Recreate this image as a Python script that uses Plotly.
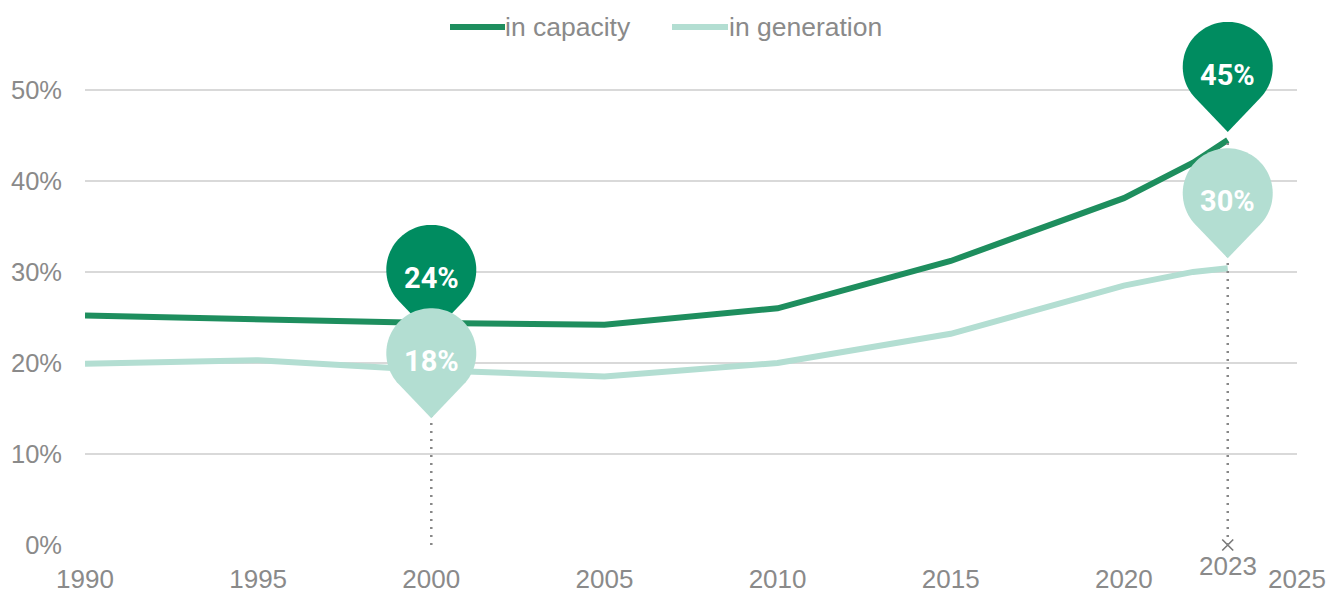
import numpy as np
import plotly.graph_objects as go

# ---- data ----
years = [1990, 1995, 2000, 2005, 2010, 2015, 2020, 2022, 2023]
capacity = [25.2, 24.8, 24.4, 24.2, 26.0, 31.2, 38.1, 42.0, 44.5]
generation = [19.9, 20.3, 19.2, 18.5, 20.0, 23.2, 28.5, 30.0, 30.4]
series_names = ["in capacity", "in generation"]
y_ticks = [0, 10, 20, 30, 40, 50]
y_tick_labels = ["0%", "10%", "20%", "30%", "40%", "50%"]
x_ticks = [1990, 1995, 2000, 2005, 2010, 2015, 2020, 2025]
pin_labels = {("cap", 2000): "24%", ("gen", 2000): "18%",
              ("cap", 2023): "45%", ("gen", 2023): "30%"}

# ---- style ----
DARK_LINE = "#1E8E5E"
DARK_PIN = "#008C60"
LIGHT = "#B3DED2"
GRAY = "#8A8A8A"
GRID = "#D9D9D9"
AXFONT = "Liberation Sans, Arial, sans-serif"
PINFONT = "Roboto, DejaVu Sans Condensed, sans-serif"

R, D = 45.0, 65.0  # pin circle radius and tip-to-centre distance (px)


def pin_path(tip_dy):
    """Teardrop path in pixels, tip at (0, tip_dy) relative to anchor (y up)."""
    th = np.degrees(np.arccos(R / D))
    angs = np.radians(np.linspace(-90 + th, 270 - th, 72))
    pts = [(0.0, tip_dy)]
    for a in angs:
        pts.append((R * np.cos(a), tip_dy + D + R * np.sin(a)))
    return "M " + " L ".join(f"{x:.2f},{y:.2f}" for x, y in pts) + " Z"


fig = go.Figure()
fig.add_trace(go.Scatter(x=years, y=capacity, mode="lines", name=series_names[0],
                         line=dict(color=DARK_LINE, width=6), showlegend=False))
fig.add_trace(go.Scatter(x=years, y=generation, mode="lines", name=series_names[1],
                         line=dict(color=LIGHT, width=6), showlegend=False))
fig.add_trace(go.Scatter(x=[2023], y=[0], mode="markers", showlegend=False,
                         marker=dict(symbol="x-thin", size=11,
                                     line=dict(color="#777777", width=1.6)),
                         cliponaxis=False))

cap_at = dict(zip(years, capacity))
gen_at = dict(zip(years, generation))

shapes = []
for yr, top in [(2000, gen_at[2000]), (2023, cap_at[2023])]:
    shapes.append(dict(type="line", xref="x", yref="y", x0=yr, x1=yr, y0=0, y1=top,
                       line=dict(color="#888888", width=2.5, dash="2px,6px"),
                       layer="above"))

pins = [("cap", 2000, -12), ("gen", 2000, -48), ("cap", 2023, 8), ("gen", 2023, 10)]
annotations = []
for ser, yr, dy in pins:
    val = cap_at[yr] if ser == "cap" else gen_at[yr]
    col = DARK_PIN if ser == "cap" else LIGHT
    shapes.append(dict(type="path", xref="x", yref="y", xsizemode="pixel",
                       ysizemode="pixel", xanchor=yr, yanchor=val,
                       path=pin_path(dy), fillcolor=col, line=dict(width=0),
                       layer="above"))
    annotations.append(dict(x=yr, y=val, xref="x", yref="y", showarrow=False,
                            text=pin_labels[(ser, yr)], yshift=dy + D - 8,
                            yanchor="middle", xanchor="center",
                            font=dict(family=PINFONT, size=29, color="white",
                                      weight=700)))

annotations.append(dict(x=2023, y=0, xref="x", yref="y", showarrow=False,
                        text="2023", yshift=-21, yanchor="middle",
                        font=dict(family=AXFONT, size=26, color=GRAY)))

PL, PW = 77, 1212


def px2paper(px):
    return (px - 8 - PL) / PW


ly = (545 - 27) / 528.0
for (x0, x1, tx, col, name) in [(450, 505, 508, DARK_LINE, series_names[0]),
                                (672, 728, 732, LIGHT, series_names[1])]:
    shapes.append(dict(type="line", xref="paper", yref="paper",
                       x0=px2paper(x0), x1=px2paper(x1), y0=ly, y1=ly,
                       line=dict(color=col, width=6)))
    annotations.append(dict(x=px2paper(tx), y=ly, xref="paper", yref="paper",
                            showarrow=False, text=name, xanchor="left",
                            yanchor="middle", xshift=-5,
                            font=dict(family=AXFONT, size=26.5, color=GRAY)))

fig.update_layout(
    width=1331, height=586,
    margin=dict(l=PL, r=42, t=9, b=49, autoexpand=False),
    paper_bgcolor="white", plot_bgcolor="white",
    shapes=shapes, annotations=annotations,
    showlegend=False,
    xaxis=dict(range=[1990, 2025], tickvals=x_ticks, showgrid=False,
               zeroline=False, showline=False, ticks="", automargin=False,
               tickfont=dict(family=AXFONT, size=26, color=GRAY),
               ticklabelstandoff=16),
    yaxis=dict(range=[0, 58], tickvals=y_ticks, ticktext=y_tick_labels,
               showgrid=True, gridcolor=GRID, gridwidth=2, zeroline=False,
               showline=False, ticks="", automargin=False,
               tickfont=dict(family=AXFONT, size=25.5, color=GRAY),
               ticklabelstandoff=22),
)

fig.write_html("out.html")
